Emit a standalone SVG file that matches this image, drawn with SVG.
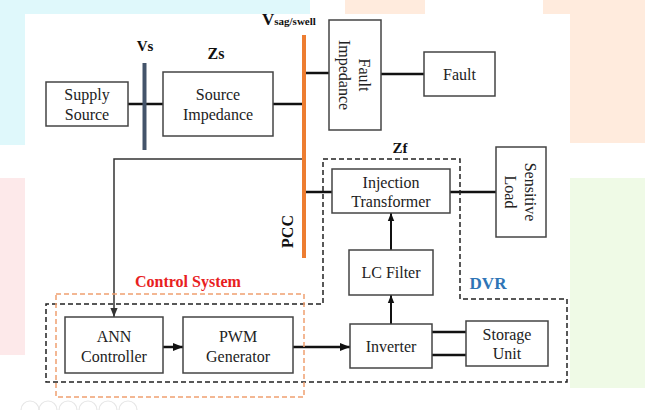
<svg xmlns="http://www.w3.org/2000/svg" width="645" height="410" viewBox="0 0 645 410">
<style>
.box{fill:#fff;stroke:#444;stroke-width:1.5}
.t{font-size:16px;fill:#222;text-anchor:middle}
.b{font-weight:bold;fill:#111;text-anchor:middle}
.w{stroke:#111;stroke-width:2.5;fill:none}
.thin{stroke:#333;stroke-width:1.5;fill:none}
.dash{stroke:#222;stroke-width:1.5;fill:none;stroke-dasharray:5 3}
.odash{stroke:#F0A070;stroke-width:1.5;fill:none;stroke-dasharray:5 3}
.ic{fill:none;stroke:#E6E6E6;stroke-width:1.2}
</style>
<defs>
<marker id="ah" viewBox="0 0 10 10" refX="10" refY="5" markerWidth="4" markerHeight="4" orient="auto" markerUnits="strokeWidth">
<path d="M0,1 L10,5 L0,9 Z" fill="#111"/>
</marker>
<marker id="ahs" viewBox="0 0 10 10" refX="10" refY="5" markerWidth="6" markerHeight="6" orient="auto" markerUnits="strokeWidth">
<path d="M0,1 L10,5 L0,9 Z" fill="#333"/>
</marker>
</defs>
<g id="background">
<rect x="0" y="0" width="645" height="410" fill="#fff"/>
<rect x="0" y="0" width="310" height="14" fill="#DFF8FB"/>
<rect x="0" y="0" width="25" height="145" fill="#DFF8FB"/>
<rect x="345" y="0" width="80" height="14" fill="#FFEBDD"/>
<rect x="543" y="0" width="102" height="14" fill="#FFEBDD"/>
<rect x="570" y="0" width="75" height="143" fill="#FFEBDD"/>
<rect x="0" y="178" width="25" height="177" fill="#FDE9EA"/>
<rect x="570" y="178" width="75" height="210" fill="#EFFAE6"/>
<circle class="ic" cx="30" cy="410" r="9"/>
<circle class="ic" cx="48" cy="410" r="9"/>
<circle class="ic" cx="68" cy="410" r="9"/>
<circle class="ic" cx="88" cy="410" r="9"/>
<circle class="ic" cx="108" cy="410" r="9"/>
<circle class="ic" cx="128" cy="410" r="9"/>
</g>
<g id="connectors">
<line class="w" x1="128" y1="104" x2="163" y2="104"/>
<line class="w" x1="273" y1="104" x2="303" y2="104"/>
<line class="w" x1="305" y1="73" x2="329" y2="73"/>
<line class="w" x1="381" y1="74" x2="424" y2="74"/>
<line class="w" x1="305" y1="192" x2="332" y2="192"/>
<line class="w" x1="450" y1="192" x2="496" y2="192"/>
<polyline class="thin" points="303,159 114,159 114,317" marker-end="url(#ahs)"/>
<line class="w" x1="163" y1="347" x2="183" y2="347" marker-end="url(#ah)"/>
<line class="w" x1="293" y1="347" x2="350" y2="347" marker-end="url(#ah)"/>
<line class="w" x1="391" y1="324" x2="391" y2="295" marker-end="url(#ah)" style="stroke-width:2"/>
<line class="w" x1="391" y1="250" x2="391" y2="213" marker-end="url(#ah)" style="stroke-width:2"/>
<line class="w" x1="432" y1="332" x2="466" y2="332"/>
<line class="w" x1="432" y1="355" x2="466" y2="355"/>
</g>
<g font-family="Liberation Serif, DejaVu Serif, serif">
<g id="vs-bus">
<line x1="144.5" y1="63" x2="144.5" y2="150" stroke="#44546A" stroke-width="4"/>
<text class="b" x="145" y="51" font-size="15">Vs</text>
</g>
<g id="pcc-bus">
<line x1="304" y1="35" x2="304" y2="258" stroke="#ED7D31" stroke-width="4"/>
<text class="b" x="0" y="0" font-size="16" transform="translate(293,231.5) rotate(-90)">PCC</text>
<text class="b" x="262" y="25" font-size="17" style="text-anchor:start">V<tspan font-size="11">sag/swell</tspan></text>
</g>
<g id="supply-source">
<rect class="box" x="46" y="82" width="82" height="44"/>
<text class="t" x="87" y="100">Supply</text>
<text class="t" x="87" y="120">Source</text>
</g>
<g id="source-impedance">
<rect class="box" x="163" y="72" width="110" height="64"/>
<text class="t" x="218" y="100">Source</text>
<text class="t" x="218" y="120">Impedance</text>
<text class="b" x="216" y="59" font-size="16">Zs</text>
</g>
<g id="fault-impedance">
<rect class="box" x="329" y="20" width="52" height="110"/>
<g transform="translate(355,75) rotate(90)">
<text class="t" x="0" y="-4">Fault</text>
<text class="t" x="0" y="16">Impedance</text>
</g>
</g>
<g id="fault">
<rect class="box" x="424" y="52" width="71" height="44"/>
<text class="t" x="459.5" y="80">Fault</text>
</g>
<g id="dvr">
<path class="dash" d="M323,159 H460 V299 H567 V382 H46 V304 H323 Z"/>
<text class="b" x="400" y="153" font-size="15">Zf</text>
<text class="b" x="488" y="289" font-size="17" style="fill:#2E75B6">DVR</text>
</g>
<g id="injection-transformer">
<rect class="box" x="332" y="169" width="118" height="44"/>
<text class="t" x="391" y="188">Injection</text>
<text class="t" x="391" y="207">Transformer</text>
</g>
<g id="sensitive-load">
<rect class="box" x="496" y="147" width="50" height="90"/>
<g transform="translate(521,192) rotate(90)">
<text class="t" x="0" y="-4">Sensitive</text>
<text class="t" x="0" y="16">Load</text>
</g>
</g>
<g id="lc-filter">
<rect class="box" x="349" y="250" width="84" height="45"/>
<text class="t" x="391" y="278">LC Filter</text>
</g>
<g id="control-system">
<rect class="odash" x="56" y="294" width="248" height="103"/>
<text class="b" x="135" y="287" font-size="16" style="text-anchor:start;fill:#E8201E">Control System</text>
</g>
<g id="ann-controller">
<rect class="box" x="65" y="317" width="98" height="56"/>
<text class="t" x="114" y="341.5">ANN</text>
<text class="t" x="114" y="361.5">Controller</text>
</g>
<g id="pwm-generator">
<rect class="box" x="183" y="317" width="110" height="56"/>
<text class="t" x="238" y="341.5">PWM</text>
<text class="t" x="238" y="361.5">Generator</text>
</g>
<g id="inverter">
<rect class="box" x="350" y="324" width="82" height="44"/>
<text class="t" x="391" y="351.5">Inverter</text>
</g>
<g id="storage-unit">
<rect class="box" x="466" y="321" width="82" height="45"/>
<text class="t" x="507" y="340">Storage</text>
<text class="t" x="507" y="359">Unit</text>
</g>
</g>
</svg>
